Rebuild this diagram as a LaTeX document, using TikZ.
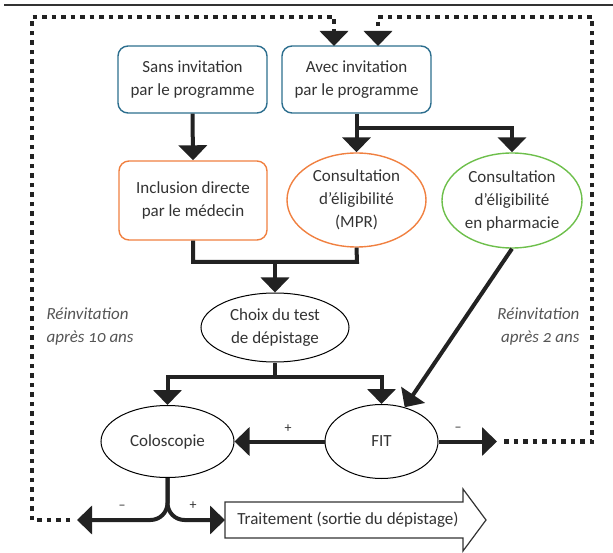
\documentclass[tikz,border=0pt]{standalone}
\usepackage{fontspec}
\setmainfont{Carlito}
\usetikzlibrary{arrows.meta,shapes.geometric}
\definecolor{boxblue}{HTML}{2C6E8E}
\definecolor{boxorange}{HTML}{F08040}
\definecolor{boxgreen}{HTML}{6DBF4B}
\definecolor{txtgray}{HTML}{333333}
\definecolor{itgray}{HTML}{555555}
\definecolor{linegray}{HTML}{222222}
\begin{document}
\begin{tikzpicture}[x=1pt,y=-1pt,
  txt/.style={font=\fontsize{17}{23}\selectfont, text=txtgray, align=center},
  bluebox/.style={txt, draw=boxblue, line width=1.4pt, rounded corners=10pt, minimum width=149pt, minimum height=67pt, inner sep=0pt},
  orangebox/.style={txt, draw=boxorange, line width=1.4pt, rounded corners=10pt, minimum width=148pt, minimum height=79pt, inner sep=0pt},
  oval/.style={txt, ellipse, inner sep=0pt, line width=1pt},
  conn/.style={draw=linegray, line width=4pt, -{Triangle[width=28pt,length=15pt]}},
  plainline/.style={draw=linegray, line width=4pt},
  dotline/.style={draw=linegray, line width=4.5pt, dash pattern=on 4.5pt off 5pt},
  dotconn/.style={dotline, -{Triangle[width=28pt,length=15pt]}},
  lbl/.style={font=\fontsize{14}{16}\selectfont, text=txtgray},
  reinv/.style={font=\fontsize{17}{23}\selectfont\itshape\addfontfeatures{Numbers=OldStyle}, text=itgray}
]
\useasboundingbox (0,0) rectangle (613,553);
% top rule
\draw[draw=txtgray, line width=1.3pt] (4,5) -- (613,5);

% nodes
\node[bluebox] (sans) at (192.5,79.5) {Sans invitation\\par le programme};
\node[bluebox] (avec) at (356.5,79.5) {Avec invitation\\par le programme};
\node[orangebox] (incl) at (193,200.5) {Inclusion directe\\par le médecin};
\node[oval, draw=boxorange, line width=1.4pt, minimum width=139pt, minimum height=94pt] (mpr) at (356.5,200) {Consultation\\d’éligibilité\\(MPR)};
\node[oval, draw=boxgreen, line width=1.4pt, minimum width=140pt, minimum height=95pt] (pharm) at (512,200.5) {Consultation\\d’éligibilité\\en pharmacie};
\node[oval, draw=black, minimum width=148pt, minimum height=69pt] (choix) at (275,327.5) {Choix du test\\de dépistage};
\node[oval, draw=black, minimum width=133pt, minimum height=72pt] (colo) at (167.5,441.5) {Coloscopie};
\node[oval, draw=black, minimum width=113pt, minimum height=74pt] (fit) at (381.5,441.5) {FIT};

\node[reinv, anchor=west, align=left] (r10) at (43,326.5) {Réinvitation\\après 10 ans};
\node[reinv, anchor=east, align=right] (r2) at (583,326.5) {Réinvitation\\après 2 ans};

% treatment arrow
\draw[draw=txtgray, line width=1.2pt, fill=white, line join=miter]
  (225,502) -- (463,502) -- (463,489) -- (486,520) -- (463,551) -- (463,538) -- (225,538) -- cycle;
\node[txt] (trait) at (348,520) {Traitement (sortie du dépistage)};
\coordinate (traitL) at (225,520);

% coordinates
\coordinate (b1) at (355,128);
\coordinate (j0) at (193,262);
\coordinate (j1) at (275,262);
\coordinate (j2) at (357,262);
\coordinate (cs) at (275,377);
\coordinate (fr) at (497,441.5);
\coordinate (lt) at (77,520);

% connectors
\draw[conn] (sans.south) -- (incl.north);
\draw[conn] (avec.south) -- (mpr.north);
\draw[conn] (b1) -| (pharm.north);
\draw[plainline, line join=miter] (incl.south) -- (j0) -- (j2) -- (mpr.south);
\draw[conn] (j1) -- (choix.north);
\draw[plainline] (choix.south) -- (cs);
\draw[conn] (cs) -| (colo.north);
\draw[conn] (cs) -| (fit.north);
\draw[conn] (pharm.south) -- (fit);
\draw[conn] (fit.west) -- (colo.east);
\draw[conn] (fit.east) -- (fr);
\draw[conn, rounded corners=17pt] (colo.south) |- (lt);
\draw[conn, rounded corners=17pt] (colo.south) |- (traitL);

% labels
\node[lbl] (p1) at (288,429) {+};
\node[lbl] (m1) at (458,429) {–};
\node[lbl] (m2) at (122,507) {–};
\node[lbl] (p2) at (193,506) {+};

% dotted loops
\coordinate (dl0) at (70,520);
\coordinate (dl1) at (32,520);
\coordinate (dl2) at (32,17);
\coordinate (dl3) at (334,17);
\coordinate (dl4) at (334,46);
\draw[dotconn] (dl0) -- (dl1) -- (dl2) -- (dl3) -- (dl4);
\coordinate (dr0) at (504,441.5);
\coordinate (dr1) at (592,441.5);
\coordinate (dr2) at (592,17);
\coordinate (dr3) at (378,17);
\coordinate (dr4) at (378,46);
\draw[dotconn] (dr0) -- (dr1) -- (dr2) -- (dr3) -- (dr4);
\end{tikzpicture}
\end{document}
